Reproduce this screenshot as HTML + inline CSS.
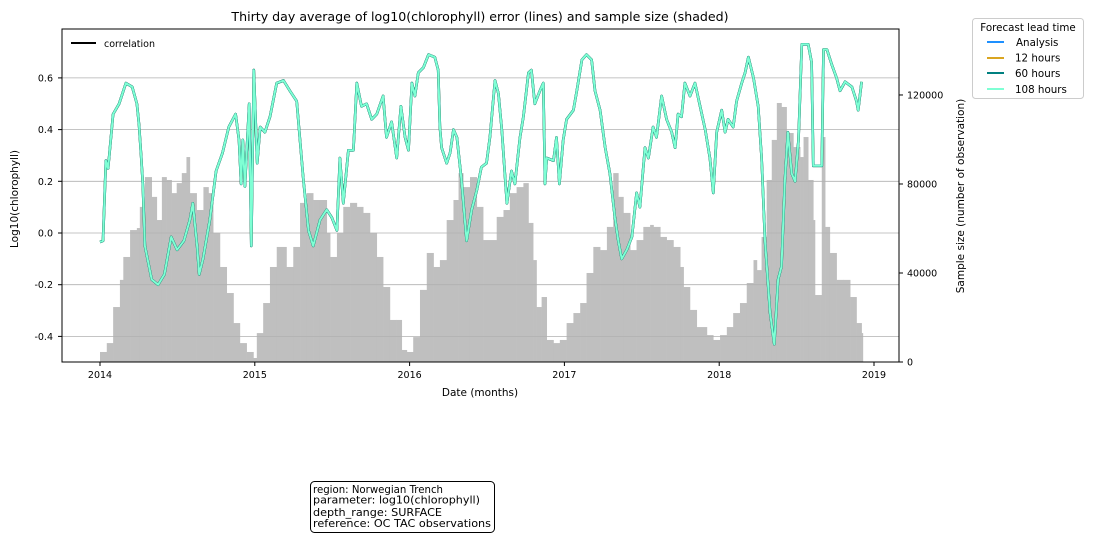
<!DOCTYPE html>
<html><head><meta charset="utf-8"><style>
body{margin:0;background:#fff;}
svg{display:block;font-family:"DejaVu Sans","Liberation Sans",sans-serif;}
</style></head><body>
<svg id="chart" width="1094" height="540" viewBox="0 0 1094 540" xmlns="http://www.w3.org/2000/svg">
<text x="480" y="21" font-size="12.6" text-anchor="middle" fill="#000">Thirty day average of log10(chlorophyll) error (lines) and sample size (shaded)</text>
<g id="bars"></g>
<g id="grid"></g>
<g id="lines"></g>
<rect x="62" y="29" width="837" height="333" fill="none" stroke="#000" stroke-width="1"/>
<g id="axes"></g>
<g>
<line x1="71" y1="43" x2="96" y2="43" stroke="#000" stroke-width="2"/>
<text x="104" y="47" font-size="9.5">correlation</text>
</g>
<text x="480" y="396" font-size="10.5" text-anchor="middle">Date (months)</text>
<text transform="translate(18,199) rotate(-90)" font-size="10.5" text-anchor="middle">Log10(chlorophyll)</text>
<text transform="translate(964,196) rotate(-90)" font-size="10.5" text-anchor="middle">Sample size (number of observation)</text>
<g>
<rect x="972.5" y="18.5" width="111" height="80" rx="3" fill="#fff" stroke="#ccc"/>
<text x="1028" y="31" font-size="10.3" text-anchor="middle">Forecast lead time</text>
<line x1="987" y1="42" x2="1004" y2="42" stroke="#1e90ff" stroke-width="2"/><text x="1016" y="46" font-size="10.3">Analysis</text>
<line x1="987" y1="58" x2="1004" y2="58" stroke="#daa520" stroke-width="2"/><text x="1015" y="61.5" font-size="10.3">12 hours</text>
<line x1="987" y1="73" x2="1004" y2="73" stroke="#008080" stroke-width="2"/><text x="1015" y="77" font-size="10.3">60 hours</text>
<line x1="987" y1="89" x2="1004" y2="89" stroke="#7fffd4" stroke-width="2"/><text x="1015" y="93" font-size="10.3">108 hours</text>
</g>
<g>
<rect x="310.5" y="481.5" width="184" height="51" rx="4" fill="#fff" stroke="#000"/>
<text x="313" y="493" font-size="10.8" textLength="130" lengthAdjust="spacingAndGlyphs">region: Norwegian Trench</text>
<text x="313" y="503.5" font-size="10.8" textLength="167" lengthAdjust="spacingAndGlyphs">parameter: log10(chlorophyll)</text>
<text x="313" y="516" font-size="10.8" textLength="129" lengthAdjust="spacingAndGlyphs">depth_range: SURFACE</text>
<text x="313" y="527" font-size="10.8" textLength="178" lengthAdjust="spacingAndGlyphs">reference: OC TAC observations</text>
</g>
</svg>
<script>
const lineDays=[0,7,14,19,31,45,61,76,87,92,97,101,106,122,137,152,168,182,198,212,219,229,234,243,259,274,289,304,320,328,333,337,342,352,357,363,371,378,389,401,417,433,448,464,480,492,503,519,535,547,559,566,574,586,598,606,617,629,641,653,668,676,688,700,710,720,728,736,743,751,763,775,790,798,802,806,818,826,834,842,853,865,877,889,900,912,920,932,940,948,960,971,979,991,999,1011,1018,1026,1038,1046,1050,1054,1070,1077,1084,1093,1101,1117,1125,1137,1148,1160,1168,1180,1192,1203,1215,1223,1231,1243,1255,1266,1274,1286,1294,1305,1313,1325,1337,1349,1357,1364,1372,1380,1392,1404,1416,1428,1439,1447,1455,1467,1475,1482,1494,1502,1514,1522,1530,1542,1553,1561,1569,1581,1591,1600,1608,1616,1623,1632,1640,1648,1656,1671,1679,1683,1703,1707,1715,1727,1738,1746,1758,1774,1785,1789,1797];
const errValues=[-0.035,-0.03,0.28,0.25,0.46,0.50,0.58,0.565,0.50,0.42,0.30,0.19,-0.05,-0.18,-0.20,-0.16,-0.015,-0.065,-0.03,0.05,0.115,-0.05,-0.16,-0.10,0.05,0.24,0.31,0.41,0.46,0.36,0.19,0.36,0.18,0.50,-0.05,0.63,0.27,0.41,0.39,0.45,0.58,0.59,0.55,0.51,0.205,0.01,-0.05,0.05,0.09,0.06,0.01,0.29,0.115,0.32,0.32,0.58,0.49,0.50,0.44,0.46,0.53,0.37,0.43,0.29,0.49,0.37,0.32,0.58,0.53,0.62,0.64,0.69,0.68,0.63,0.41,0.33,0.27,0.31,0.40,0.37,0.205,-0.03,0.09,0.165,0.255,0.27,0.37,0.59,0.54,0.40,0.115,0.24,0.19,0.37,0.45,0.62,0.63,0.50,0.55,0.58,0.19,0.29,0.28,0.37,0.19,0.36,0.44,0.475,0.55,0.67,0.69,0.67,0.55,0.475,0.33,0.23,0.06,-0.03,-0.10,-0.065,-0.015,0.155,0.10,0.33,0.29,0.41,0.37,0.53,0.44,0.39,0.33,0.46,0.45,0.58,0.53,0.58,0.49,0.40,0.29,0.155,0.39,0.475,0.39,0.44,0.41,0.51,0.58,0.62,0.68,0.60,0.49,0.29,-0.03,-0.31,-0.43,-0.18,-0.13,0.205,0.39,0.23,0.20,0.36,0.73,0.73,0.66,0.26,0.26,0.71,0.71,0.65,0.60,0.55,0.585,0.565,0.51,0.475,0.585];
const barDays=[0,16,31,47,55,71,87,94,106,122,134,146,157,169,181,193,204,212,228,244,256,267,283,299,315,330,346,362,370,385,401,417,429,440,456,472,488,503,519,535,543,559,574,590,606,621,637,653,668,684,700,712,724,739,755,771,787,802,818,834,846,857,873,889,904,920,936,952,967,983,999,1011,1022,1030,1042,1054,1070,1085,1101,1117,1133,1148,1164,1180,1196,1211,1223,1235,1251,1266,1282,1298,1306,1322,1337,1353,1369,1377,1392,1408,1432,1447,1463,1479,1494,1510,1526,1542,1550,1561,1573,1585,1597,1608,1620,1636,1652,1660,1671,1683,1687,1699,1703,1711,1722,1738,1754,1770,1785,1797];
const barCounts=[4500,8500,24700,36900,47200,59300,60200,69700,83100,74200,63800,83100,81800,75900,80400,84900,92100,75900,68300,78600,75900,58000,42700,31000,17500,8500,4500,1800,13000,26500,42700,51700,51700,42700,51700,71500,75900,72800,72800,58000,47200,58000,69700,71500,69700,67000,58000,47200,33700,18900,18900,5400,4500,11200,32400,49000,42700,45800,63800,72800,84900,78600,83100,69700,54800,54800,65200,68300,75900,78600,80400,62500,45800,24700,29200,9900,8500,9900,17500,22000,26500,40000,51700,50300,60700,84900,74200,67000,50300,54800,60700,61600,60700,56200,54800,51700,42700,33700,23400,15700,12100,9900,12100,15700,22000,26500,35500,45800,41300,56200,81800,99800,116400,114600,102900,96600,92100,101100,81800,63800,30100,30100,101100,60700,49000,36900,36900,29200,17500,13000];
const barEnd=1800;
const yearTicks=[2014,2015,2016,2017,2018,2019];
const leftTicks=[-0.4,-0.2,0.0,0.2,0.4,0.6];
const rightTicks=[0,40000,80000,120000];

const NS='http://www.w3.org/2000/svg';
const X=d=>100+d/365.25*154.8;
const Y=v=>233-v*258.5;
const YR=c=>362-c/449.4;
function mk(t,a,p){const e=document.createElementNS(NS,t);for(const k in a)e.setAttribute(k,a[k]);p.appendChild(e);return e;}
const gb=document.getElementById('bars');
for(let i=0;i<barDays.length;i++){
  const x0=X(barDays[i]),x1=X(i+1<barDays.length?barDays[i+1]:barEnd);
  const r=mk('rect',{x:x0,y:YR(barCounts[i]),width:x1-x0+0.3,height:362-YR(barCounts[i]),fill:'#bfbfbf'},gb);
  
  
}
const gg=document.getElementById('grid');
leftTicks.forEach(v=>{const l=mk('line',{x1:62,x2:899,y1:Y(v),y2:Y(v),stroke:'#b0b0b0','stroke-width':0.8},gg);
  
  });
const gl=document.getElementById('lines');
const pts=lineDays.map((d,i)=>X(d).toFixed(1)+','+Y(errValues[i]).toFixed(1)).join(' ');
[['#1e90ff',2.6,'line-analysis'],['#daa520',2.6,'line-12-hours'],['#008080',2.6,'line-60-hours'],['#7fffd4',2.0,'line-108-hours']].forEach(s=>{
  const p=mk('polyline',{points:pts,fill:'none',stroke:s[0],'stroke-width':s[1],'stroke-linejoin':'round'},gl);
  
  
});
const ga=document.getElementById('axes');
yearTicks.forEach(y=>{const x=X((y-2014)*365.25);
  mk('line',{x1:x,x2:x,y1:362,y2:366,stroke:'#000'},ga);
  const t=mk('text',{x:x,y:378,'font-size':9.5,'text-anchor':'middle'},ga);t.textContent=y;
  
  });
leftTicks.forEach(v=>{const y=Y(v);
  mk('line',{x1:58,x2:62,y1:y,y2:y,stroke:'#000'},ga);
  const t=mk('text',{x:53,y:y+3.5,'font-size':9.5,'text-anchor':'end'},ga);t.textContent=v.toFixed(1);
  
  });
rightTicks.forEach(c=>{const y=YR(c);
  mk('line',{x1:899,x2:903,y1:y,y2:y,stroke:'#000'},ga);
  const t=mk('text',{x:907,y:y+3.5,'font-size':9.5},ga);t.textContent=c;
  
  });
</script>
</body></html>
